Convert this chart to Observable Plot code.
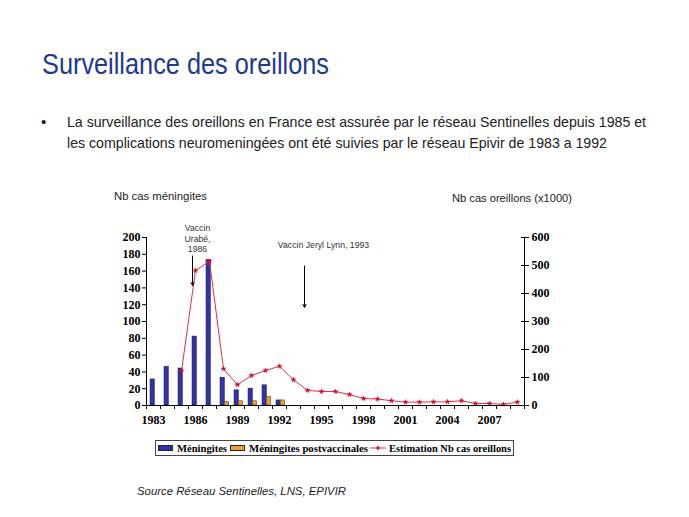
<!DOCTYPE html>
<html>
<head>
<meta charset="utf-8">
<script src="https://cdn.jsdelivr.net/npm/d3@7"></script>
<script src="https://cdn.jsdelivr.net/npm/@observablehq/plot@0.6"></script>
<style>
  html, body { margin: 0; padding: 0; background: #fff; }
  #page { position: relative; width: 689px; height: 517px; overflow: hidden; background: #fff; font-family: "Liberation Sans", Arial, sans-serif; }
  .t { position: absolute; white-space: nowrap; line-height: 1; transform-origin: 0 0; }
  #chart { position: absolute; left: 0; top: 180px; }
  .legend { position: absolute; left: 155px; top: 440px; width: 357px; height: 14px; border: 1px solid #444; }
  .sw { position: absolute; width: 15px; height: 6px; top: 4px; border: 1px solid #222; box-sizing: border-box; }
  .lg { position: absolute; white-space: nowrap; line-height: 1; font-family: "Liberation Serif", "Times New Roman", serif; font-weight: bold; font-size: 11px; top: 2px; transform-origin: 0 0; color: #000; }
</style>
</head>
<body>
<div id="page">
  <div class="t" id="title" style="left:42px; top:49px; font-size:30px; color:#1c3a8e;">Surveillance des oreillons</div>
  <div class="t" style="left:41px; top:114px; font-size:15px; color:#222;">•</div>
  <div class="t" id="b1" style="left:67px; top:114px; font-size:15px; color:#222;">La surveillance des oreillons en France est assurée par le réseau Sentinelles depuis 1985 et</div>
  <div class="t" id="b2" style="left:67px; top:135px; font-size:15px; color:#222;">les complications neuromeningées ont été suivies par le réseau Epivir de 1983 a 1992</div>
  <div class="t" id="yl" style="left:114px; top:191px; font-size:11px; color:#222;">Nb cas méningites</div>
  <div class="t" id="yr" style="left:452px; top:193px; font-size:11px; color:#222;">Nb cas oreillons (x1000)</div>
  <div id="chart"></div>
  <div class="legend">
    <div class="sw" style="left:2px; background:#3333a8;"></div>
    <div class="lg" id="l1" style="left:21px;">Méningites</div>
    <div class="sw" style="left:74px; background:#f0a030;"></div>
    <div class="lg" id="l2" style="left:93px;">Méningites postvaccinales</div>
    <svg style="position:absolute; left:214px; top:2px;" width="16" height="10"><line x1="0" y1="5" x2="16" y2="5" stroke="#e0304a" stroke-width="1"/><path d="M8,3 L9,5 L8,7 L7,5 Z M6,5 L10,5" fill="#d0102a" stroke="#d0102a" stroke-width="0.8"/></svg>
    <div class="lg" id="l3" style="left:233px;">Estimation Nb cas oreillons</div>
  </div>
  <div class="t" id="src" style="left:137px; top:486px; font-size:11px; font-style:italic; color:#222;">Source Réseau Sentinelles, LNS, EPIVIR</div>
</div>
<script>
// ---- Data ----
const meningYears = [1983, 1984, 1985, 1986, 1987, 1988, 1989, 1990, 1991, 1992];
const meningites = [31, 46, 44, 82, 173, 33, 18, 20, 24, 6];
const postvacYears = [1988, 1989, 1990, 1991, 1992];
const postvaccinales = [4, 5, 5, 10, 6];
const oreillonsYears = [1985, 1986, 1987, 1988, 1989, 1990, 1991, 1992, 1993, 1994, 1995, 1996, 1997,
  1998, 1999, 2000, 2001, 2002, 2003, 2004, 2005, 2006, 2007, 2008, 2009];
const oreillons = [123, 482, 515, 131, 74, 107, 125, 140, 92, 54, 50, 50, 39,
  25, 23, 17, 12, 12, 13, 13, 17, 7, 7, 4, 12]; // x1000
const allYears = [1983, 1984, 1985, 1986, 1987, 1988, 1989, 1990, 1991, 1992, 1993, 1994, 1995, 1996,
  1997, 1998, 1999, 2000, 2001, 2002, 2003, 2004, 2005, 2006, 2007, 2008, 2009];
const xLabelYears = [1983, 1986, 1989, 1992, 1995, 1998, 2001, 2004, 2007];
const leftTicks = [0, 20, 40, 60, 80, 100, 120, 140, 160, 180, 200];
const rightTicks = [0, 100, 200, 300, 400, 500, 600];
const leftMax = 200, rightMax = 600;
const ratio = rightMax / leftMax;

const menData = meningYears.map((y, i) => ({year: y, value: meningites[i]}));
const pvData = postvacYears.map((y, i) => ({year: y, value: postvaccinales[i]}));
const orData = oreillonsYears.map((y, i) => ({year: y, value: oreillons[i] / ratio}));
const annotations = [
  {year: 1986, y: 199, text: "Vaccin\nUrabé,\n1986"},
  {year: 1995, y: 191.5, text: "Vaccin Jeryl Lynn, 1993"}
];
const arrows = [
  {year: 1986, y1: 178, y2: 143},
  {year: 1994, y1: 166, y2: 117}
];

const serif = "'Liberation Serif', 'Times New Roman', serif";
const sans = "'Liberation Sans', Arial, sans-serif";
const red = "#e0304a";

const chart = Plot.plot({
  width: 689,
  height: 260,
  marginLeft: 146,
  marginRight: 165,
  marginTop: 57,
  marginBottom: 35,
  style: {background: "transparent", overflow: "visible"},
  x: {type: "linear", domain: [allYears[0] - 0.5, allYears[allYears.length - 1] + 0.5], label: null},
  y: {domain: [0, leftMax], label: null},
  marks: [
    Plot.rectY(menData, {x1: d => d.year - 0.21, x2: d => d.year + 0.09, y: "value", fill: "#3333a8", stroke: "#15155a", strokeWidth: 0.6}),
    Plot.rectY(pvData, {x1: d => d.year + 0.09, x2: d => d.year + 0.38, y: "value", fill: "#f0a030", stroke: "#5a4010", strokeWidth: 0.6}),
    Plot.line(orData, {x: "year", y: "value", stroke: red, strokeWidth: 1}),
    Plot.dot(orData, {x: "year", y: "value", symbol: "star", r: 1.5, fill: "#d0102a", stroke: "#d0102a", strokeWidth: 0.6}),
    // axes lines
    Plot.ruleY([0], {stroke: "#000", strokeWidth: 1}),
    Plot.ruleX([allYears[0] - 0.5], {y1: 0, y2: leftMax, stroke: "#000"}),
    Plot.ruleX([allYears[allYears.length - 1] + 0.5], {y1: 0, y2: leftMax, stroke: "#000"}),
    // x axis: ticks at boundaries, labels every 3 years
    Plot.axisX({ticks: allYears.map(y => y - 0.5).concat([allYears[allYears.length - 1] + 0.5]), tickSize: 4, tickFormat: () => "", stroke: "#000", label: null}),
    Plot.axisX({ticks: xLabelYears, tickSize: 0, tickPadding: 10, tickFormat: d => String(d), fontFamily: serif, fontWeight: "bold", fontSize: 12, fill: "#000", label: null}),
    // left axis
    Plot.axisY({ticks: leftTicks, tickSize: 4, tickPadding: 2, anchor: "left", fontFamily: serif, fontWeight: "bold", fontSize: 12, fill: "#000", stroke: "#000", label: null}),
    // right axis (scaled)
    Plot.axisY({ticks: rightTicks.map(v => v / ratio), tickSize: 4, tickPadding: 3, anchor: "right", tickFormat: v => String(Math.round(v * ratio)), fontFamily: serif, fontWeight: "bold", fontSize: 12, fill: "#000", stroke: "#000", label: null}),
    Plot.axisY({ticks: rightTicks.map(v => v / ratio), tickSize: -4, anchor: "right", tickFormat: () => "", stroke: "#000", label: null}),
    // annotations
    Plot.arrow(arrows, {x1: "year", x2: "year", y1: "y1", y2: "y2", dx: -3, stroke: "#000", strokeWidth: 1, headLength: 5, bend: 0}),
    Plot.text(annotations, {x: "year", y: "y", text: "text", fontSize: 8.7, fontFamily: sans, fill: "#333", lineHeight: 1.2, dx: 2})
  ]
});
document.getElementById("chart").appendChild(chart);

// Fit texts to the condensed widths of the reference
function fit(id, w) {
  const el = document.getElementById(id);
  const nat = el.getBoundingClientRect().width;
  el.style.transform = `scaleX(${w / nat})`;
}
fit("title", 287);
fit("b1", 579);
fit("b2", 540);
fit("yl", 93);
fit("yr", 120);
fit("src", 209);
fit("l1", 50);
fit("l2", 119);
fit("l3", 122);
</script>
</body>
</html>
